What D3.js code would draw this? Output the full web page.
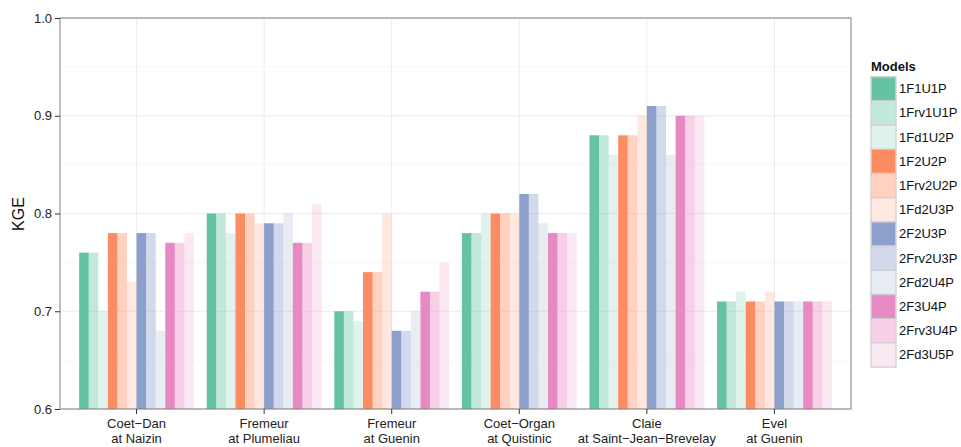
<!DOCTYPE html>
<html>
<head>
<meta charset="utf-8">
<script src="https://cdn.jsdelivr.net/npm/d3@7"></script>
<style>
  body { margin: 0; background: #fff; }
  svg { display: block; font-family: "Liberation Sans", Arial, Helvetica, sans-serif; }
</style>
</head>
<body>
<svg id="chart" width="961" height="447"></svg>
<script>
const categories = [
  ["Coet\u2212Dan", "at Naizin"],
  ["Fremeur", "at Plumeliau"],
  ["Fremeur", "at Guenin"],
  ["Coet\u2212Organ", "at Quistinic"],
  ["Claie", "at Saint\u2212Jean\u2212Brevelay"],
  ["Evel", "at Guenin"]
];
const models = ["1F1U1P","1Frv1U1P","1Fd1U2P","1F2U2P","1Frv2U2P","1Fd2U3P",
                "2F2U3P","2Frv2U3P","2Fd2U4P","2F3U4P","2Frv3U4P","2Fd3U5P"];
const v1F1U1P   = [0.76, 0.80, 0.70, 0.78, 0.88, 0.71];
const v1Frv1U1P = [0.76, 0.80, 0.70, 0.78, 0.88, 0.71];
const v1Fd1U2P  = [0.70, 0.78, 0.69, 0.80, 0.86, 0.72];
const v1F2U2P   = [0.78, 0.80, 0.74, 0.80, 0.88, 0.71];
const v1Frv2U2P = [0.78, 0.80, 0.74, 0.80, 0.88, 0.71];
const v1Fd2U3P  = [0.73, 0.79, 0.80, 0.80, 0.90, 0.72];
const v2F2U3P   = [0.78, 0.79, 0.68, 0.82, 0.91, 0.71];
const v2Frv2U3P = [0.78, 0.79, 0.68, 0.82, 0.91, 0.71];
const v2Fd2U4P  = [0.68, 0.80, 0.70, 0.79, 0.86, 0.71];
const v2F3U4P   = [0.77, 0.77, 0.72, 0.78, 0.90, 0.71];
const v2Frv3U4P = [0.77, 0.77, 0.72, 0.78, 0.90, 0.71];
const v2Fd3U5P  = [0.78, 0.81, 0.75, 0.78, 0.90, 0.71];
const seriesValues = [v1F1U1P, v1Frv1U1P, v1Fd1U2P, v1F2U2P, v1Frv2U2P, v1Fd2U3P,
                      v2F2U3P, v2Frv2U3P, v2Fd2U4P, v2F3U4P, v2Frv3U4P, v2Fd3U5P];
const yTicks = [0.6, 0.7, 0.8, 0.9, 1.0];
const yMinor = [0.65, 0.75, 0.85, 0.95];

const baseColors = ["#66C2A5", "#FC8D62", "#8DA0CB", "#E78AC3"];
const alphas = [1, 0.4, 0.2];

(function () {
const fillOf = i => baseColors[Math.floor(i / 3)];
const alphaOf = i => alphas[i % 3];

const svg = d3.select("#chart");
const pLeft = 60, pRight = 851, pTop = 18, pBottom = 409;

const x = d3.scaleBand().domain(d3.range(categories.length))
  .range([pLeft, pRight]).paddingInner(0).paddingOuter(0.1);
const step = x.step();
const center = i => x(i) + x.bandwidth() / 2;
const xi = d3.scaleBand().domain(models).range([-0.45 * step, 0.45 * step]).padding(0);
const y = d3.scaleLinear().domain([0.6, 1.0]).range([pBottom, pTop]);

// grid
const g = svg.append("g");
g.selectAll(".minor").data(yMinor).join("line")
  .attr("x1", pLeft).attr("x2", pRight)
  .attr("y1", d => y(d)).attr("y2", d => y(d))
  .attr("stroke", "#F7F7F7").attr("stroke-width", 1);
g.selectAll(".major").data(yTicks).join("line")
  .attr("x1", pLeft).attr("x2", pRight)
  .attr("y1", d => y(d)).attr("y2", d => y(d))
  .attr("stroke", "#EBEBEB").attr("stroke-width", 1);
g.selectAll(".vmajor").data(d3.range(categories.length)).join("line")
  .attr("x1", d => center(d)).attr("x2", d => center(d))
  .attr("y1", pTop).attr("y2", pBottom)
  .attr("stroke", "#EBEBEB").attr("stroke-width", 1);

// bars
const bars = [];
seriesValues.forEach((vals, mi) => vals.forEach((v, ci) => bars.push({mi, ci, v})));
svg.append("g").selectAll("rect").data(bars).join("rect")
  .attr("x", d => center(d.ci) + xi(models[d.mi]))
  .attr("width", xi.bandwidth())
  .attr("y", d => y(d.v))
  .attr("height", d => y(0.6) - y(d.v))
  .attr("fill", d => fillOf(d.mi))
  .attr("fill-opacity", d => alphaOf(d.mi));

// panel border
svg.append("rect").attr("x", pLeft).attr("y", pTop)
  .attr("width", pRight - pLeft).attr("height", pBottom - pTop)
  .attr("fill", "none").attr("stroke", "#7F7F7F").attr("stroke-width", 1);

// y axis
const yAxis = svg.append("g").attr("transform", `translate(${pLeft},0)`)
  .call(d3.axisLeft(y).tickValues(yTicks).tickFormat(d3.format(".1f")).tickSize(5).tickPadding(3));
yAxis.select(".domain").remove();
yAxis.selectAll("line").attr("stroke", "#333");
yAxis.selectAll("text").attr("font-size", 13).attr("fill", "#222")
  .attr("font-family", "Liberation Sans, Arial, sans-serif");

// x axis
const xAxis = svg.append("g").attr("transform", `translate(0,${pBottom})`)
  .call(d3.axisBottom(x).tickSize(5).tickFormat(() => ""));
xAxis.select(".domain").remove();
xAxis.selectAll("line").attr("stroke", "#333");
xAxis.selectAll(".tick text").remove();
const xl = svg.append("g").selectAll("text").data(categories).join("text")
  .attr("text-anchor", "middle").attr("font-size", 13).attr("fill", "#222")
  .attr("x", (d, i) => center(i));
xl.append("tspan").attr("x", (d, i) => center(i)).attr("y", 428).text(d => d[0]);
xl.append("tspan").attr("x", (d, i) => center(i)).attr("y", 443).text(d => d[1]);

// y title
svg.append("text").attr("transform", "translate(24,214) rotate(-90)")
  .attr("text-anchor", "middle").attr("font-size", 16).attr("fill", "#111").text("KGE");

// legend
const lg = svg.append("g");
lg.append("text").attr("x", 871).attr("y", 71).attr("font-size", 13)
  .attr("font-weight", "bold").attr("fill", "#111").text("Models");
const keyH = 24.2, keyW = 25, ky0 = 76.7;
const items = lg.selectAll(".item").data(models).join("g")
  .attr("transform", (d, i) => `translate(871,${ky0 + i * keyH})`);
items.append("rect").attr("width", keyW).attr("height", keyH)
  .attr("fill", "#fff").attr("stroke", "#CCCCCC").attr("stroke-width", 1.2);
items.append("rect").attr("x", 0.6).attr("y", 0.6).attr("width", keyW - 1.2).attr("height", keyH - 1.2)
  .attr("fill", (d, i) => fillOf(i)).attr("fill-opacity", (d, i) => alphaOf(i));
items.append("text").attr("x", keyW + 3).attr("y", keyH / 2 + 4.5)
  .attr("font-size", 13).attr("fill", "#111").text(d => d);
})();
</script>
</body>
</html>
